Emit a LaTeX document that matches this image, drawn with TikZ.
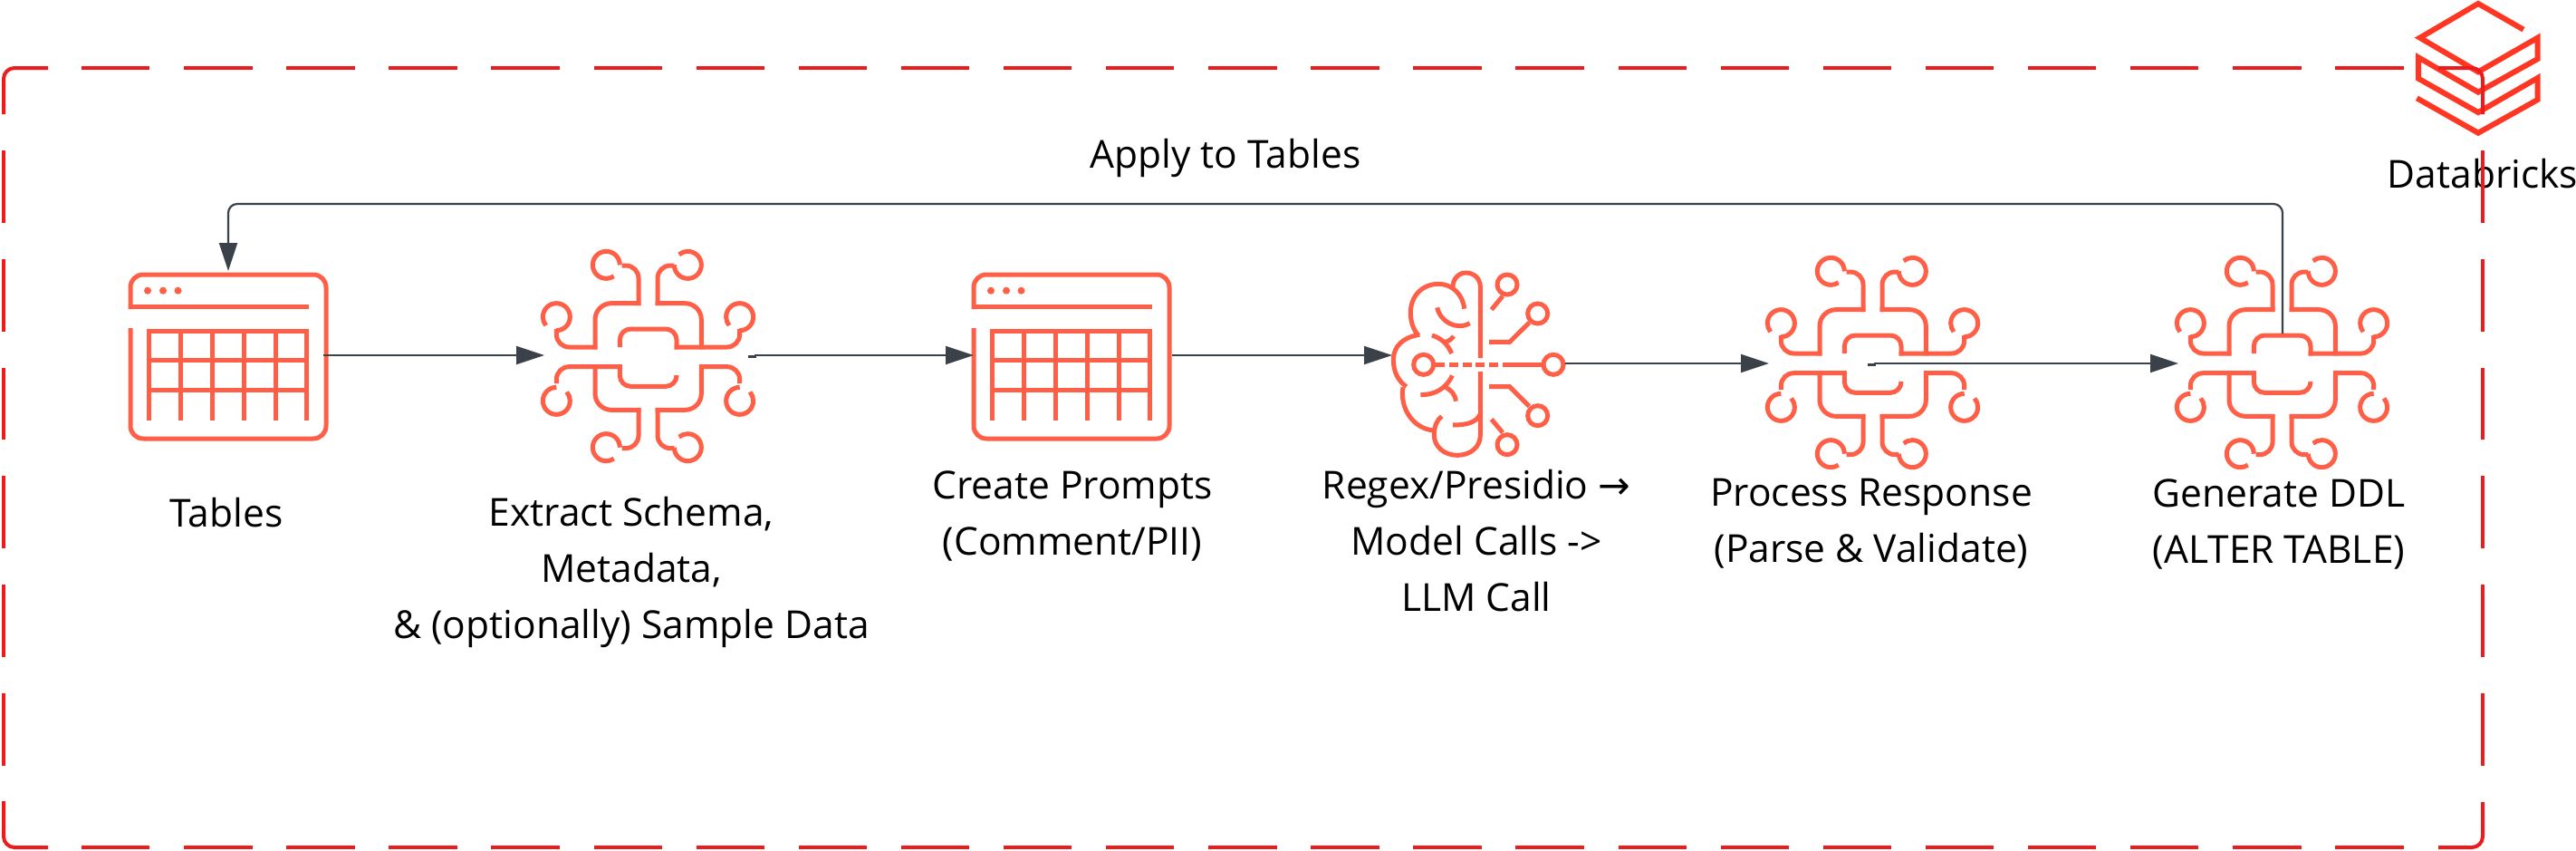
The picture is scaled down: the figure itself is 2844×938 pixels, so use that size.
\documentclass[tikz,border=0pt]{standalone}
\usepackage{fontspec}
\setmainfont{Open Sans}
\newfontfamily\symfont{DejaVu Sans}
\usetikzlibrary{arrows.meta}
\definecolor{iconred}{HTML}{FF5F46}
\definecolor{logored}{HTML}{FF3621}
\definecolor{boxred}{HTML}{ED1C1C}
\definecolor{flowgray}{HTML}{3B4148}
\tikzset{
  iconbox/.style={inner sep=0pt,outer sep=0pt,minimum width=#1,minimum height=130pt},
  iconline/.style={draw=iconred,line width=5pt},
  flow/.style={draw=flowgray,line width=2.2pt,-{Triangle[length=31pt,width=20pt]}},
  lbl/.style={inner sep=0pt,align=center,text=black,font=\fontsize{42.5}{62}\selectfont},
  boxline/.style={draw=boxred,line width=4pt},
  hdash/.style={boxline,dash pattern=on 75.4pt off 37.7pt},
  vdash/.style={boxline,dash pattern=on 79.8pt off 40pt},
}
\newcommand{\tableicon}[2]{%
\begin{scope}[shift={(#1,#2)}]
  \draw[iconline,rounded corners=14pt] (-108,-31) -- (-108,91) -- (108,91) -- (108,-90) -- (-108,-90) -- (-108,-52);
  \draw[iconline] (-110.5,-55) -- (89,-55);
  \foreach \xx in {-87.5,-52.6,-17.7,17.2,52,86.5} \draw[iconline] (\xx,71) -- (\xx,-28);
  \draw[iconline] (-90,-28) -- (89,-28);
  \draw[iconline] (-90,4.7) -- (89,4.7);
  \draw[iconline] (-90,37.7) -- (89,37.7);
  \foreach \xx in {-89,-72,-55.5} \fill[iconred] (\xx,-72.3) circle (4);
\end{scope}}
\newcommand{\chipicon}[2]{%
\begin{scope}[shift={(#1,#2)},scale=1/3,shift={(-420,-420)}]
  % upper left
  \draw[iconline,rounded corners=14pt] (332,120) -- (387,120) -- (387,252);
  \draw[iconline,rounded corners=18pt] (394,245) -- (243,245) -- (243,397);
  \draw[iconline,rounded corners=14pt] (250,390) -- (115,390) -- (115,330);
  % upper right
  \draw[iconline,rounded corners=14pt] (505,120) -- (450,120) -- (450,252);
  \draw[iconline,rounded corners=18pt] (443,245) -- (595,245) -- (595,397);
  % centre top and right
  \draw[iconline,rounded corners=12pt] (325,390) -- (325,330) -- (513,330) -- (513,397);
  \draw[iconline,rounded corners=14pt] (506,390) -- (722,390) -- (722,330);
  % lower left and centre bottom
  \draw[iconline,rounded corners=14pt] (115,510) -- (115,455) -- (332,455);
  \draw[iconline,rounded corners=12pt] (325,448) -- (325,520) -- (513,520) -- (513,485);
  \draw[iconline,rounded corners=18pt] (243,448) -- (243,598) -- (394,598);
  \draw[iconline,rounded corners=14pt] (387,591) -- (387,725) -- (332,725);
  % lower right
  \draw[iconline,rounded corners=14pt] (505,725) -- (450,725) -- (450,591);
  \draw[iconline,rounded corners=18pt] (443,598) -- (595,598) -- (595,448);
  \draw[iconline,rounded corners=14pt] (588,455) -- (722,455) -- (722,510);
  % terminals
  \draw[iconline] (325,118) arc[start angle=0,end angle=-304,radius=45];
  \draw[iconline] (325,722) arc[start angle=0,end angle=-304,radius=45];
  \draw[iconline] (505,118) arc[start angle=180,end angle=-130,radius=45];
  \draw[iconline] (505,722) arc[start angle=180,end angle=-130,radius=45];
  \draw[iconline] (115,335) arc[start angle=90,end angle=-219,radius=45];
  \draw[iconline] (722,335) arc[start angle=90,end angle=-219,radius=45];
  \draw[iconline] (115,523) arc[start angle=-90,end angle=-401,radius=45];
  \draw[iconline] (722,523) arc[start angle=-90,end angle=-401,radius=45];
\end{scope}}
\begin{document}
\begin{tikzpicture}[x=1pt,y=1pt,yscale=-1]
\useasboundingbox (0,0) rectangle (2844,938);
\fill[white] (0,0) rectangle (2844,938);
% icons
\node[iconbox=216pt] (tbl1) at (252,392) {};
\node[iconbox=230pt] (chip1) at (716,392) {};
\node[iconbox=216pt] (tbl2) at (1183,392) {};
\node[iconbox=190pt] (brain) at (1632,392) {};
\node[iconbox=230pt] (chip2) at (2068,401) {};
\node[iconbox=230pt] (chip3) at (2520,401) {};
\tableicon{252}{393}
\chipicon{716}{393}
\tableicon{1183}{393}
\chipicon{2068}{400}
\chipicon{2520}{400}
% brain
\begin{scope}[shift={(1480,270)},scale=1/3]
  \draw[iconline] (463,375) -- (463,140) .. controls (463,110) and (440,93) .. (415,93) .. controls (392,93) and (372,112) .. (372,140);
  \draw[iconline] (410,212) .. controls (405,165) and (370,130) .. (325,130) .. controls (270,130) and (232,170) .. (232,225) .. controls (232,255) and (240,280) .. (258,300);
  \draw[iconline] (262,298) .. controls (210,305) and (175,335) .. (175,380) .. controls (175,420) and (190,450) .. (218,470);
  \draw[iconline] (207,472) .. controls (195,540) and (240,610) .. (310,615);
  \draw[iconline] (335,568) .. controls (320,580) and (310,600) .. (310,630) .. controls (310,670) and (345,697) .. (387,697) .. controls (430,697) and (463,670) .. (463,630) -- (463,420);
  \draw[iconline] (372,597) .. controls (415,597) and (450,590) .. (463,560);
  \draw[iconline] (320,208) .. controls (330,255) and (385,285) .. (428,260);
  \draw[iconline] (303,300) .. controls (335,310) and (355,330) .. (368,360);
  \draw[iconline] (375,303) .. controls (365,315) and (355,322) .. (343,322);
  \draw[iconline] (265,497) .. controls (315,497) and (350,475) .. (370,433);
  \draw[iconline] (345,470) .. controls (365,480) and (380,495) .. (382,518);
  \draw[iconline] (275,397) circle (33);
  \draw[iconline] (705,397) circle (33);
  \draw[iconline] (552,132) circle (33);
  \draw[iconline] (653,228) circle (33);
  \draw[iconline] (653,566) circle (33);
  \draw[iconline] (552,662) circle (33);
  \draw[iconline] (308,397) -- (345,397);
  \draw[iconline] (360,397) -- (390,397);
  \draw[iconline] (405,397) -- (435,397);
  \draw[iconline] (447,397) -- (477,397);
  \draw[iconline] (492,397) -- (522,397);
  \draw[iconline] (537,397) -- (672,397);
  \draw[iconline] (537,170) -- (500,215);
  \draw[iconline] (625,258) -- (560,322) -- (492,322);
  \draw[iconline] (625,535) -- (560,470) -- (492,470);
  \draw[iconline] (537,622) -- (500,578);
\end{scope}
% logo
\begin{scope}[shift={(2360,0)},scale=1/3]
  \draw[draw=logored,line width=6pt,miter limit=10] (1278,98) -- (1128,12) -- (935,125) -- (1128,238) -- (1325,125) -- (1325,195) -- (1128,305) -- (930,190) -- (930,260) -- (1128,372) -- (1325,258) -- (1325,330) -- (1128,440) -- (925,325);
\end{scope}
% labels
\node[lbl] (applylbl) at (1353,174) {Apply to Tables};
\node[lbl] (dblbl) at (2741,192) {Databricks};
\node[lbl] (tbllbl) at (250,566) {Tables};
\node[lbl] (extractlbl) at (697,631) {Extract Schema,\\Metadata,\\\& (optionally) Sample Data};
\node[lbl] (promptlbl) at (1184,569) {Create Prompts\\(Comment/PII)};
\node[lbl] (regexlbl) at (1630,597) {Regex/Presidio {\symfont →}\\Model Calls ->\\LLM Call};
\node[lbl] (proclbl) at (2066,578) {Process Response\\(Parse \& Validate)};
\node[lbl] (genlbl) at (2516,578) {Generate DDL\\(ALTER TABLE)};
% connectors
\coordinate (bend) at (1300,225);
\coordinate (chip3top) at (2520,368);
\coordinate (tbl1top) at (252,299);
\coordinate (brainout) at (1728,401);
\coordinate (chipjoga) at (826,393.5);
\coordinate (chipjogb) at (2062,402.5);
\draw[flow] (tbl1.east) ++(-3,0) -- (chip1.west);
\draw[flow] (chipjoga) -- ++(8,0) -- ++(0,-1.5) -- (tbl2.west);
\draw[flow] (tbl2.east) ++(3,0) -- (brain.west);
\draw[flow] (brainout) -- (chip2.west);
\draw[flow] (chipjogb) -- ++(8,0) -- ++(0,-1.5) -- (chip3.west);
\draw[flow,rounded corners=10pt] (chip3top) -- (chip3top |- bend) -- (tbl1top |- bend) -- (tbl1top);
% dashed frame
\draw[boxline,rounded corners=12pt] (4,126) -- (4,75) -- (53,75);
\draw[boxline,rounded corners=12pt] (2692,75) -- (2741,75) -- (2741,126);
\draw[boxline,rounded corners=12pt] (4,884) -- (4,935) -- (53,935);
\draw[boxline,rounded corners=12pt] (2692,935) -- (2741,935) -- (2741,885);
\draw[hdash] (90,75) -- (2654,75);
\draw[hdash] (90,935) -- (2654,935);
\draw[vdash] (4,166) -- (4,845);
\draw[vdash] (2741,166) -- (2741,845);
\end{tikzpicture}
\end{document}
